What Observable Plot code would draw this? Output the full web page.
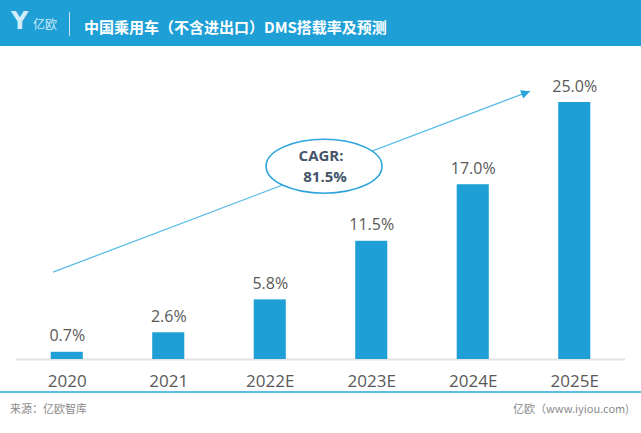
<!DOCTYPE html>
<html>
<head>
<meta charset="utf-8">
<script src="https://cdn.jsdelivr.net/npm/d3@7"></script>
<script src="https://cdn.jsdelivr.net/npm/@observablehq/plot@0.6"></script>
<style>
  html, body { margin: 0; padding: 0; background: #fff; }
  body { width: 641px; height: 433px; overflow: hidden; font-family: "Open Sans", "Noto Sans CJK SC", sans-serif; }
  #header { position: relative; height: 46px; background: #1e9fd6; color: #fff; }
  #logoY { position: absolute; left: 11px; top: 7px; font: 700 24px "DejaVu Sans", sans-serif; color: #d2ecf8; letter-spacing: -1px; }
  #logoTxt { position: absolute; left: 33px; top: 15px; font: 400 12px "Noto Sans CJK SC", sans-serif; color: #d2ecf8; }
  #sep { position: absolute; left: 69px; top: 12px; width: 1px; height: 24px; background: rgba(255,255,255,0.75); }
  #title { position: absolute; left: 84px; top: 18px; font: 700 15px "Noto Sans CJK SC", sans-serif; line-height: 18px; color: #fff; white-space: nowrap; }
  #chart { height: 345px; }
  #chart svg { display: block; }
  #footer { position: relative; border-top: 2px solid #5bbde6; height: 40px; }
  #src { position: absolute; left: 10px; top: 7px; font: 400 11px "Noto Sans CJK SC", sans-serif; color: #8a8a8a; }
  #site { position: absolute; right: 12px; top: 7px; font: 400 11px "Noto Sans CJK SC", sans-serif; color: #8a8a8a; }
</style>
</head>
<body>
<div id="header">
  <div id="logoY">Y</div>
  <div id="logoTxt">亿欧</div>
  <div id="sep"></div>
  <div id="title">中国乘用车（不含进出口）DMS搭载率及预测</div>
</div>
<div id="chart"></div>
<div id="footer">
  <div id="src">来源：亿欧智库</div>
  <div id="site">亿欧（www.iyiou.com)</div>
</div>
<script>
// ---- data ----
const years = ["2020", "2021", "2022E", "2023E", "2024E", "2025E"];
const rates = [0.7, 2.6, 5.8, 11.5, 17.0, 25.0];
const rateLabels = ["0.7%", "2.6%", "5.8%", "11.5%", "17.0%", "25.0%"];
const cagrLines = ["CAGR:", "81.5%"];
// annotation arrow (in chart units: category index, percent)
const arrowFrom = [-0.14, 8.5];
const arrowTo = [4.56, 26.1];
const bubbleAt = [2.53, 18.8];

const data = years.map((y, i) => ({i, year: y, rate: rates[i], label: rateLabels[i]}));
const half = 0.158;

const W = 641, H = 345, mL = 16, mR = 16, mT = 56, mB = 32;
const px = v => mL + (v + 0.5) / 6 * (W - mL - mR);
const py = v => (H - mB) - v / 25 * (H - mB - mT);
const ang = Math.atan2(py(arrowTo[1]) - py(arrowFrom[1]), px(arrowTo[0]) - px(arrowFrom[0])) * 180 / Math.PI;

const head = {draw(ctx) { ctx.moveTo(0, 0); ctx.lineTo(-9, -4.5); ctx.lineTo(-9, 4.5); ctx.closePath(); }};
const ellipse = {draw(ctx) {
  const rx = 58, ry = 27, k = 0.5523;
  ctx.moveTo(-rx, 0);
  ctx.bezierCurveTo(-rx, -ry * k, -rx * k, -ry, 0, -ry);
  ctx.bezierCurveTo(rx * k, -ry, rx, -ry * k, rx, 0);
  ctx.bezierCurveTo(rx, ry * k, rx * k, ry, 0, ry);
  ctx.bezierCurveTo(-rx * k, ry, -rx, ry * k, -rx, 0);
  ctx.closePath();
}};

const chart = Plot.plot({
  width: W, height: H,
  marginLeft: mL, marginRight: mR, marginTop: mT, marginBottom: mB,
  style: {fontFamily: "'Open Sans', 'Noto Sans CJK SC', sans-serif", background: "transparent", overflow: "visible"},
  x: {type: "linear", domain: [-0.5, 5.5], axis: null},
  y: {domain: [0, 25], axis: null},
  marks: [
    Plot.ruleY([0], {stroke: "#e3e3e3", strokeWidth: 2}),
    Plot.rectY(data, {x1: d => d.i - half, x2: d => d.i + half, y1: 0, y2: "rate", fill: "#1e9fd6"}),
    Plot.text(data, {x: "i", y: "rate", text: "label", lineAnchor: "bottom", dy: -11, fontSize: 16, fill: "#595959"}),
    Plot.axisX({ticks: data.map(d => d.i), tickFormat: i => years[i], tickSize: 0, tickPadding: 15, fontSize: 17, color: "#595959", label: null}),
    Plot.link([{a: arrowFrom, b: arrowTo}], {x1: d => d.a[0], y1: d => d.a[1], x2: d => d.b[0], y2: d => d.b[1], stroke: "#5cbde8", strokeWidth: 1.3}),
    Plot.dot([arrowTo], {x: d => d[0], y: d => d[1], symbol: head, r: 5, fill: "#2aa3db", stroke: "none", rotate: ang}),
    Plot.dot([bubbleAt], {x: d => d[0], y: d => d[1], symbol: ellipse, r: 10, fill: "#fff", stroke: "#2ea5dc", strokeWidth: 1.6}),
    Plot.text([bubbleAt], {x: d => d[0], y: d => d[1], text: () => cagrLines[0], fontSize: 15, fontWeight: "bold", fill: "#44546a", dx: -3, dy: -10.5}),
    Plot.text([bubbleAt], {x: d => d[0], y: d => d[1], text: () => cagrLines[1], fontSize: 15, fontWeight: "bold", fill: "#44546a", dx: 1, dy: 10.5})
  ]
});
document.getElementById("chart").appendChild(chart);
</script>
</body>
</html>
